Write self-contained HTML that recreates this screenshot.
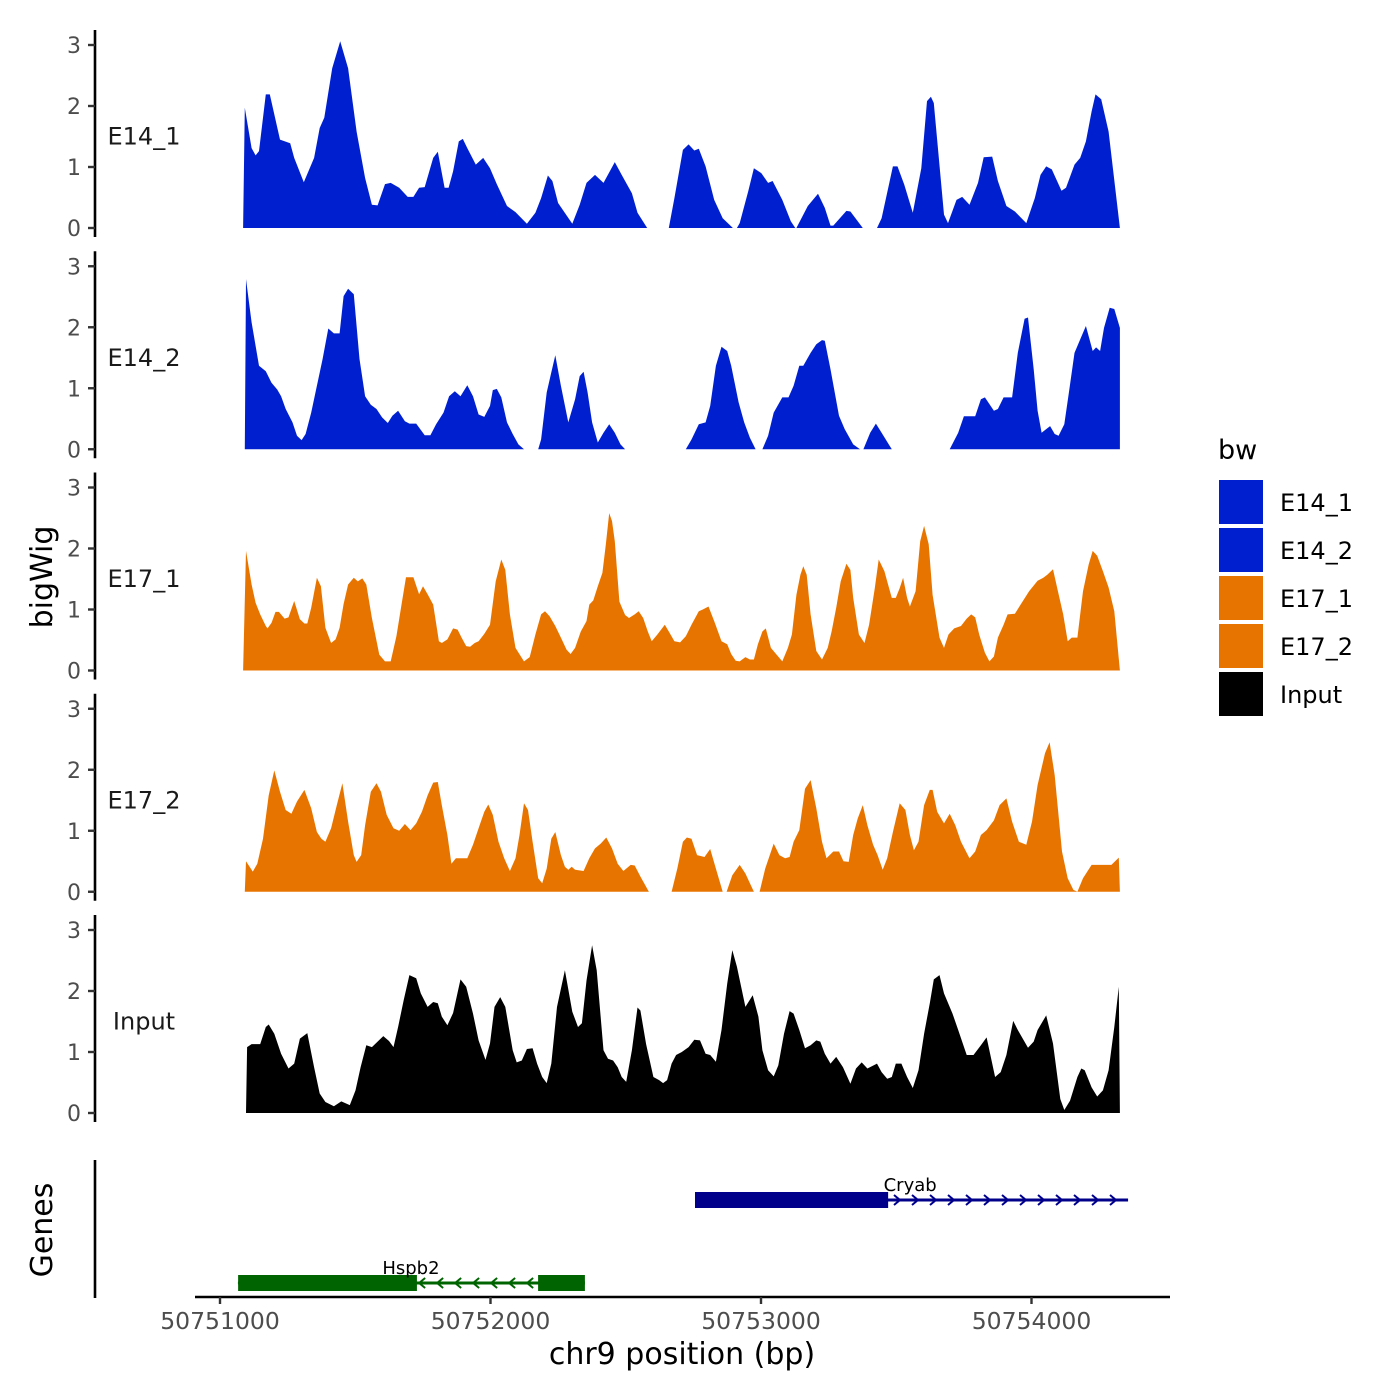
<!DOCTYPE html>
<html><head><meta charset="utf-8">
<style>
html,body{margin:0;padding:0;background:#fff;}
svg{display:block;font-family:"DejaVu Sans","Liberation Sans",sans-serif;}
</style></head>
<body>
<svg id="chart" width="1400" height="1400" viewBox="0 0 1400 1400" xmlns="http://www.w3.org/2000/svg">
<g id="tracks"></g>
<g id="genes"></g>
<g id="xaxis"></g>
<text x="52" y="577" font-size="30" text-anchor="middle" transform="rotate(-90 52 577)" fill="#000">bigWig</text>
<text x="52" y="1230" font-size="30" text-anchor="middle" transform="rotate(-90 52 1230)" fill="#000">Genes</text>
<text x="682" y="1364" font-size="30" text-anchor="middle" fill="#000">chr9 position (bp)</text>
<g id="legend"></g>
</svg>
<script>
// ---- data ----
const regionStart = 50751075;  // bp of bin 0
const binBp = 2.098;           // bp per bin
const trackNames = ["E14_1","E14_2","E17_1","E17_2","Input"];
const trackColors = ["#0020cf","#0020cf","#e87400","#e87400","#000000"];
const yTicks = [0,1,2,3];
const xTicks = [50751000,50752000,50753000,50754000];
const xTickLabels = ["50751000","50752000","50753000","50754000"];

const e14_1 = [[5,0],[8,1.97],[20,1.31],[27,1.19],[33,1.26],[45,2.19],[52,2.19],[70,1.45],[88,1.39],[95,1.15],[112,0.75],[130,1.15],[140,1.64],[148,1.81],[162,2.62],[176,3.06],[190,2.62],[205,1.58],[220,0.82],[232,0.38],[242,0.37],[255,0.72],[265,0.74],[280,0.66],[295,0.51],[305,0.51],[315,0.66],[325,0.67],[340,1.15],[348,1.25],[360,0.66],[367,0.66],[375,0.93],[385,1.42],[392,1.46],[400,1.31],[415,1.04],[428,1.15],[440,0.98],[452,0.72],[470,0.36],[485,0.26],[505,0.07],[520,0.25],[530,0.49],[542,0.86],[550,0.77],[560,0.41],[585,0.07],[598,0.38],[610,0.74],[625,0.87],[640,0.74],[660,1.08],[672,0.87],[690,0.57],[700,0.25],[717,0],null,[755,0],[765,0.49],[780,1.28],[790,1.37],[800,1.27],[808,1.30],[820,1.01],[835,0.46],[850,0.16],[868,0],[875,0],[880,0.08],[895,0.60],[905,0.98],[918,0.90],[930,0.74],[938,0.77],[955,0.46],[970,0.11],[978,0],[980,0],[1000,0.36],[1018,0.56],[1030,0.33],[1040,0.04],[1045,0.04],[1068,0.28],[1075,0.27],[1097,0],null,[1122,0],[1130,0.16],[1150,1.01],[1158,1.01],[1170,0.71],[1185,0.25],[1200,0.98],[1210,2.08],[1217,2.15],[1222,2.05],[1240,0.22],[1247,0.08],[1262,0.46],[1272,0.51],[1285,0.38],[1300,0.74],[1310,1.16],[1325,1.17],[1335,0.77],[1350,0.36],[1365,0.27],[1385,0.08],[1400,0.49],[1410,0.87],[1420,1.01],[1430,0.96],[1447,0.61],[1455,0.66],[1470,1.04],[1480,1.15],[1490,1.42],[1500,1.91],[1507,2.19],[1517,2.11],[1530,1.58],[1550,0]];

const e14_2 = [[8,0],[10,2.79],[20,2.08],[33,1.37],[45,1.28],[55,1.09],[65,0.98],[72,0.87],[80,0.66],[92,0.44],[100,0.22],[108,0.15],[115,0.25],[125,0.60],[135,1.04],[145,1.48],[155,1.98],[165,1.90],[175,1.90],[182,2.51],[190,2.63],[200,2.54],[210,1.48],[220,0.87],[230,0.73],[240,0.66],[250,0.52],[260,0.43],[268,0.55],[278,0.63],[290,0.46],[298,0.42],[310,0.42],[325,0.23],[335,0.23],[345,0.41],[358,0.60],[368,0.87],[378,0.95],[388,0.87],[400,1.05],[410,0.87],[420,0.57],[430,0.53],[440,0.71],[445,0.97],[452,0.99],[460,0.85],[470,0.44],[480,0.25],[490,0.08],[500,0],null,[525,0],[530,0.16],[540,0.93],[548,1.26],[555,1.54],[565,1.04],[578,0.44],[590,0.82],[598,1.20],[605,1.27],[612,0.93],[620,0.44],[630,0.11],[640,0.27],[650,0.41],[660,0.27],[670,0.08],[678,0],null,[785,0],[795,0.16],[808,0.41],[820,0.44],[828,0.71],[838,1.37],[848,1.68],[858,1.61],[865,1.37],[878,0.77],[888,0.44],[898,0.19],[908,0],[920,0],[930,0.22],[940,0.60],[955,0.85],[966,0.85],[975,1.04],[985,1.37],[992,1.37],[1005,1.58],[1015,1.72],[1025,1.79],[1030,1.78],[1040,1.31],[1055,0.55],[1065,0.33],[1080,0.08],[1092,0],[1098,0],[1110,0.27],[1120,0.42],[1130,0.27],[1148,0],null,[1250,0],[1265,0.27],[1275,0.54],[1295,0.54],[1305,0.82],[1312,0.85],[1328,0.63],[1335,0.66],[1345,0.85],[1360,0.85],[1370,1.58],[1382,2.14],[1388,2.16],[1398,1.31],[1405,0.63],[1412,0.27],[1420,0.33],[1427,0.38],[1435,0.25],[1442,0.22],[1452,0.41],[1460,0.93],[1470,1.58],[1480,1.80],[1490,2.02],[1502,1.61],[1508,1.67],[1515,1.61],[1522,1.99],[1532,2.32],[1540,2.30],[1550,1.99],[1550,0]];

const e17_1 = [[5,0],[10,1.96],[20,1.41],[27,1.11],[35,0.92],[45,0.73],[48,0.69],[55,0.78],[62,0.96],[68,0.96],[78,0.85],[85,0.87],[95,1.14],[105,0.84],[113,0.77],[118,0.77],[125,1.03],[135,1.52],[142,1.38],[150,0.70],[160,0.45],[168,0.51],[175,0.70],[182,1.09],[190,1.41],[200,1.52],[207,1.46],[215,1.51],[222,1.41],[232,0.86],[245,0.26],[255,0.15],[265,0.15],[275,0.56],[285,1.13],[292,1.53],[305,1.53],[315,1.25],[322,1.38],[330,1.25],[340,1.08],[350,0.48],[355,0.45],[365,0.51],[375,0.69],[383,0.67],[390,0.54],[398,0.40],[405,0.39],[413,0.45],[420,0.48],[430,0.60],[440,0.75],[450,1.46],[460,1.82],[467,1.65],[475,0.92],[485,0.37],[500,0.15],[510,0.22],[520,0.59],[530,0.92],[537,0.97],[545,0.89],[555,0.73],[565,0.54],[575,0.34],[582,0.27],[590,0.37],[600,0.64],[610,0.81],[615,1.08],[622,1.15],[630,1.38],[638,1.60],[644,2.06],[650,2.58],[655,2.45],[660,2.12],[668,1.13],[678,0.91],[685,0.86],[695,0.92],[702,0.97],[710,0.86],[718,0.64],[725,0.48],[735,0.59],[748,0.75],[755,0.64],[765,0.48],[775,0.46],[785,0.56],[795,0.75],[808,0.97],[815,1.00],[825,1.05],[835,0.81],[848,0.48],[858,0.43],[865,0.27],[873,0.16],[880,0.15],[890,0.22],[898,0.18],[905,0.18],[912,0.43],[920,0.64],[926,0.69],[935,0.37],[945,0.26],[955,0.15],[965,0.37],[972,0.59],[980,1.24],[987,1.57],[992,1.71],[998,1.57],[1005,0.92],[1015,0.32],[1025,0.18],[1035,0.37],[1042,0.64],[1050,1.03],[1058,1.46],[1068,1.75],[1075,1.65],[1080,1.19],[1090,0.59],[1100,0.45],[1108,0.75],[1118,1.35],[1125,1.82],[1135,1.63],[1140,1.46],[1148,1.19],[1155,1.19],[1162,1.35],[1168,1.52],[1175,1.19],[1180,1.05],[1190,1.30],[1198,2.12],[1205,2.37],[1213,2.07],[1220,1.24],[1232,0.54],[1240,0.37],[1248,0.59],[1258,0.69],[1270,0.73],[1280,0.85],[1288,0.92],[1295,0.87],[1302,0.59],[1312,0.29],[1320,0.15],[1328,0.23],[1335,0.54],[1345,0.75],[1352,0.92],[1365,0.93],[1375,1.08],[1390,1.30],[1405,1.47],[1415,1.52],[1422,1.57],[1432,1.66],[1440,1.33],[1450,0.92],[1458,0.48],[1465,0.54],[1475,0.54],[1485,1.30],[1495,1.74],[1502,1.96],[1510,1.88],[1520,1.63],[1530,1.36],[1540,0.97],[1550,0]];

const e17_2 = [[8,0],[10,0.50],[22,0.33],[30,0.46],[40,0.87],[50,1.58],[60,1.99],[70,1.64],[80,1.34],[90,1.28],[100,1.48],[113,1.67],[125,1.37],[135,0.98],[143,0.87],[150,0.82],[160,1.04],[170,1.42],[180,1.78],[190,1.15],[200,0.60],[205,0.49],[213,0.60],[220,1.09],[230,1.64],[240,1.78],[248,1.64],[258,1.26],[270,1.04],[280,1.00],[290,1.11],[300,1.01],[310,1.12],[320,1.31],[330,1.58],[340,1.79],[348,1.80],[355,1.42],[365,0.93],[372,0.46],[380,0.55],[400,0.55],[410,0.77],[420,1.04],[430,1.31],[437,1.43],[445,1.26],[455,0.82],[465,0.55],[475,0.34],[485,0.55],[492,0.93],[500,1.45],[507,1.34],[515,0.82],[525,0.22],[532,0.14],[540,0.38],[548,0.87],[555,0.98],[565,0.60],[572,0.41],[578,0.36],[584,0.41],[590,0.36],[605,0.34],[615,0.55],[625,0.71],[635,0.79],[645,0.89],[655,0.71],[665,0.46],[675,0.34],[688,0.44],[695,0.43],[705,0.25],[720,0],null,[760,0],[770,0.38],[780,0.82],[787,0.89],[795,0.87],[805,0.60],[818,0.57],[828,0.70],[838,0.38],[850,0],null,[857,0],[867,0.27],[880,0.44],[890,0.30],[905,0],null,[915,0],[925,0.38],[940,0.79],[950,0.60],[960,0.55],[968,0.57],[975,0.82],[985,1.01],[995,1.69],[1005,1.83],[1015,1.37],[1025,0.82],[1033,0.55],[1045,0.66],[1055,0.66],[1063,0.50],[1072,0.49],[1080,0.93],[1088,1.20],[1097,1.42],[1105,1.09],[1115,0.77],[1123,0.60],[1132,0.36],[1140,0.55],[1150,0.98],[1162,1.45],[1172,1.34],[1180,0.93],[1187,0.68],[1195,0.82],[1205,1.42],[1215,1.67],[1220,1.67],[1228,1.31],[1240,1.12],[1250,1.28],[1260,1.09],[1270,0.82],[1285,0.55],[1295,0.66],[1305,0.93],[1315,1.01],[1328,1.17],[1338,1.42],[1350,1.53],[1360,1.15],[1372,0.82],[1385,0.77],[1395,1.15],[1405,1.75],[1418,2.27],[1426,2.45],[1435,1.91],[1448,0.66],[1458,0.22],[1468,0.03],[1475,0],[1485,0.22],[1500,0.44],[1535,0.44],[1548,0.56],[1550,0]];

const input = [[10,0],[12,1.08],[20,1.13],[35,1.13],[45,1.41],[50,1.45],[60,1.30],[72,0.97],[85,0.73],[95,0.81],[105,1.22],[118,1.31],[130,0.75],[140,0.32],[150,0.18],[165,0.11],[178,0.19],[193,0.13],[203,0.37],[212,0.75],[222,1.11],[232,1.08],[242,1.17],[252,1.26],[262,1.18],[270,1.08],[278,1.41],[288,1.85],[298,2.26],[310,2.21],[318,1.96],[330,1.74],[340,1.82],[348,1.80],[355,1.58],[365,1.44],[375,1.64],[388,2.19],[398,2.07],[410,1.63],[420,1.19],[432,0.87],[440,1.14],[448,1.74],[458,1.90],[467,1.74],[480,1.03],[487,0.83],[496,0.86],[505,1.05],[515,1.06],[523,0.81],[532,0.59],[540,0.49],[548,0.81],[558,1.74],[572,2.34],[585,1.66],[595,1.41],[602,1.47],[610,2.17],[620,2.75],[628,2.34],[640,1.03],[648,0.89],[657,0.86],[665,0.75],[672,0.59],[680,0.51],[690,1.03],[700,1.73],[705,1.68],[715,1.13],[728,0.59],[738,0.54],[745,0.49],[752,0.54],[760,0.81],[768,0.95],[778,1.00],[790,1.08],[800,1.20],[810,1.19],[820,0.97],[828,0.95],[838,0.84],[848,1.36],[858,2.12],[867,2.67],[875,2.40],[890,1.74],[903,1.93],[913,1.58],[920,1.03],[930,0.70],[940,0.60],[948,0.78],[958,1.30],[968,1.67],[975,1.63],[985,1.36],[995,1.06],[1005,1.11],[1015,1.19],[1022,1.17],[1030,0.97],[1040,0.81],[1050,0.92],[1062,0.75],[1075,0.48],[1085,0.73],[1095,0.83],[1105,0.73],[1122,0.81],[1130,0.67],[1140,0.56],[1148,0.59],[1155,0.81],[1165,0.81],[1175,0.59],[1185,0.41],[1195,0.70],[1205,1.30],[1215,1.80],[1222,2.19],[1232,2.26],[1240,1.96],[1255,1.63],[1265,1.36],[1280,0.95],[1292,0.95],[1305,1.11],[1315,1.24],[1330,0.59],[1340,0.67],[1350,0.95],[1362,1.51],[1370,1.36],[1388,1.07],[1398,1.17],[1405,1.36],[1420,1.60],[1432,1.14],[1445,0.23],[1452,0.05],[1462,0.20],[1475,0.59],[1482,0.73],[1488,0.70],[1500,0.42],[1510,0.27],[1520,0.37],[1530,0.70],[1540,1.41],[1548,2.07],[1550,0]];

const trackData = [e14_1, e14_2, e17_1, e17_2, input];

// genes
const geneNames = ["Cryab","Hspb2"];
const geneStrands = ["+","-"];
const geneSpans = [[50752756,50754357],[50751067,50752349]];
const geneExons = [[[50752756,50753470]],[[50751067,50751728],[50752176,50752349]]];
const geneColors = ["#00008b","#006400"];

// ---- scales ----
const NS = "http://www.w3.org/2000/svg";
function xScale(bp){ return 220 + (bp - 50751000) * 0.2705; }
function binToBp(b){ return regionStart + b * binBp; }
const panelZero0 = 228, panelStep = 221.25, unitPx = 61;
function yScale(i, v){ return panelZero0 + i*panelStep - v*unitPx; }
function mk(tag, attrs, parent){ const e=document.createElementNS(NS,tag); for(const k in attrs) e.setAttribute(k,attrs[k]); parent.appendChild(e); return e; }

const tracksG = document.getElementById('tracks');
trackData.forEach((data, i) => {
  const g = mk('g', {}, tracksG);
  
  
  const segs = []; let cur = [];
  data.forEach(p => { if (p === null) { if (cur.length) segs.push(cur); cur = []; } else cur.push(p); });
  if (cur.length) segs.push(cur);
  const zero = yScale(i, 0);
  segs.forEach((s) => {
    let d = 'M' + xScale(binToBp(s[0][0])).toFixed(1) + ',' + zero;
    s.forEach(p => { d += 'L' + xScale(binToBp(p[0])).toFixed(1) + ',' + yScale(i, p[1]).toFixed(1); });
    d += 'L' + xScale(binToBp(s[s.length-1][0])).toFixed(1) + ',' + zero + 'Z';
    const path = mk('path', {d: d, fill: trackColors[i], stroke: 'none'}, g);
    
    
  });
  const ax = mk('line', {x1:95, x2:95, y1:(zero-198), y2:(zero+9), stroke:'#000', 'stroke-width':2.6}, g);
  
  
  yTicks.forEach(t => {
    const y = yScale(i, t);
    const tk = mk('line', {x1:88, x2:95, y1:y, y2:y, stroke:'#333', 'stroke-width':2.4}, g);
    
    
    const tl = mk('text', {x:81, y:y+8, 'font-size':22, 'text-anchor':'end', fill:'#4d4d4d'}, g);
    
    
    tl.textContent = t;
  });
  const lab = mk('text', {x:144, y:yScale(i, 1.5)+8, 'font-size':24, 'text-anchor':'middle', fill:'#1a1a1a'}, g);
  
  
  lab.textContent = trackNames[i];
});

// genes
const genesG = document.getElementById('genes');
const ga = mk('line', {x1:95, x2:95, y1:1160, y2:1298, stroke:'#000', 'stroke-width':2.6}, genesG);


const geneRowY = [1200, 1283];
geneNames.forEach((name, gi) => {
  const g = mk('g', {}, genesG);
  
  
  const y = geneRowY[gi], col = geneColors[gi];
  const x0 = xScale(geneSpans[gi][0]), x1 = xScale(geneSpans[gi][1]);
  const ln = mk('line', {x1:x0, x2:x1, y1:y, y2:y, stroke:col, 'stroke-width':3}, g);
  
  
  const dir = geneStrands[gi] === '+' ? 1 : -1;
  for (let x = x0 + 4; x <= x1 - 2; x += 18) {
    const c = mk('path', {d:'M'+(x-3*dir)+','+(y-5)+'L'+(x+3*dir)+','+y+'L'+(x-3*dir)+','+(y+5), fill:'none', stroke:col, 'stroke-width':2}, g);
    
    
  }
  geneExons[gi].forEach(ex => {
    const r = mk('rect', {x:xScale(ex[0]), y:y-8, width:xScale(ex[1])-xScale(ex[0]), height:16, fill:col}, g);
    
    
  });
  const lx = gi === 0 ? xScale(geneExons[0][0][1]) + 22 : xScale(geneExons[1][0][1]) - 6;
  const t = mk('text', {x:lx, y:y-9, 'font-size':18, 'text-anchor':'middle', fill:'#000'}, g);
  
  
  t.textContent = name;
});

// x axis
const xg = document.getElementById('xaxis');
const xl = mk('line', {x1:195, x2:1170, y1:1297, y2:1297, stroke:'#000', 'stroke-width':2.6}, xg);


xTicks.forEach((t, k) => {
  const x = xScale(t);
  const tk = mk('line', {x1:x, x2:x, y1:1297, y2:1304, stroke:'#333', 'stroke-width':2.4}, xg);
  
  
  const tl = mk('text', {x:x, y:1329, 'font-size':23.5, 'text-anchor':'middle', fill:'#4d4d4d'}, xg);
  
  
  tl.textContent = xTickLabels[k];
});

// legend
const lg = document.getElementById('legend');
const lt = mk('text', {x:1218, y:459, 'font-size':27, fill:'#000'}, lg);


lt.textContent = 'bw';
trackNames.forEach((n, i) => {
  const g = mk('g', {}, lg);
  
  
  const r = mk('rect', {x:1219, y:480 + i*48, width:44, height:44, fill:trackColors[i]}, g);
  
  
  const t = mk('text', {x:1280, y:511 + i*48, 'font-size':24, fill:'#000'}, g);
  
  
  t.textContent = n;
});
</script>
</body></html>
